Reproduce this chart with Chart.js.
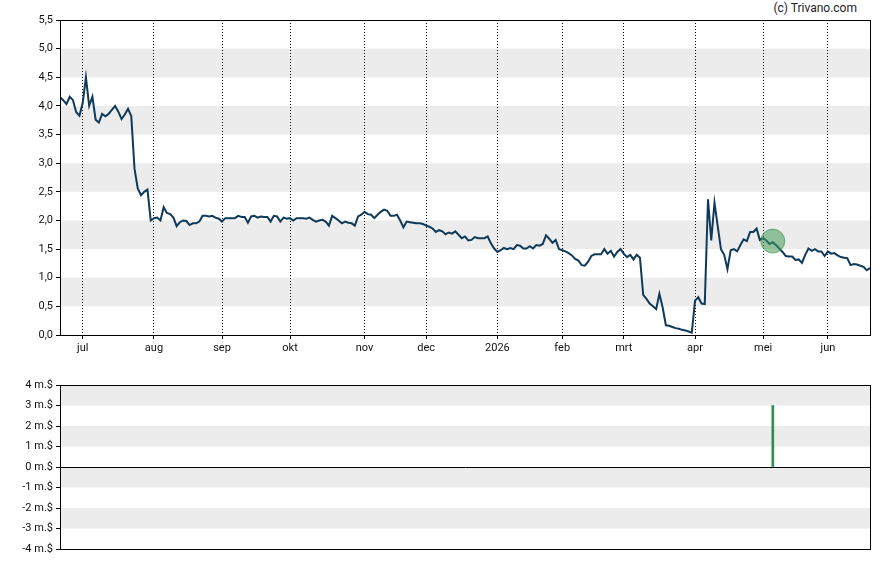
<!DOCTYPE html>
<html lang="nl">
  <head>
    <meta charset="UTF-8" />
    <title>Koers</title>
    <script src="https://cdn.jsdelivr.net/npm/chart.js"></script>
    <style>
      body {
        margin: 0;
        background: #ffffff;
        font-family: Roboto, Arial, sans-serif;
      }
      #wrap {
        position: relative;
        width: 888px;
        height: 565px;
      }
      .box {
        position: absolute;
        left: 0;
        width: 888px;
      }
      #copy {
        position: absolute;
        top: 1px;
        right: 31px;
        font-size: 12px;
        color: #222;
      }
    </style>
  </head>
  <body>
    <div id="wrap">
      <div id="copy">(c) Trivano.com</div>
      <div class="box" style="top: 0; height: 365px"><canvas id="priceChart"></canvas></div>
      <div class="box" style="top: 370px; height: 195px"><canvas id="tradeChart"></canvas></div>
    </div>

    <script>
      // koers per handelsdag (index 0 = eind juni 2025)
      const prices = [
        4.15, 4.10, 4.03, 4.16, 4.10, 3.89, 3.83, 4.05, 4.50, 4.00,
        4.16, 3.76, 3.71, 3.86, 3.82, 3.86, 3.93, 4.00, 3.90, 3.77,
        3.85, 3.95, 3.82, 2.90, 2.56, 2.44, 2.50, 2.54, 2.00, 2.04,
        2.05, 2.00, 2.23, 2.13, 2.11, 2.05, 1.90, 1.97, 2.00, 1.99,
        1.92, 1.95, 1.95, 1.98, 2.08, 2.08, 2.07, 2.08, 2.05, 2.03,
        1.98, 2.04, 2.04, 2.04, 2.04, 2.08, 2.06, 2.06, 1.96, 2.07,
        2.08, 2.05, 2.07, 2.06, 2.06, 1.98, 2.08, 2.07, 1.98, 2.05,
        2.03, 2.04, 2.00, 2.04, 2.04, 2.04, 2.03, 2.05, 2.01, 1.98,
        2.00, 2.01, 1.98, 1.91, 2.08, 2.04, 2.00, 1.95, 1.98, 1.96,
        1.95, 1.91, 2.07, 2.10, 2.15, 2.11, 2.10, 2.04, 2.10, 2.15,
        2.19, 2.17, 2.08, 2.08, 2.10, 2.00, 1.88, 1.98, 1.97, 1.96,
        1.95, 1.95, 1.94, 1.91, 1.89, 1.86, 1.80, 1.83, 1.81, 1.76,
        1.79, 1.77, 1.81, 1.75, 1.69, 1.72, 1.65, 1.66, 1.71, 1.69,
        1.69, 1.69, 1.72, 1.60, 1.51, 1.45, 1.48, 1.52, 1.50, 1.52,
        1.50, 1.57, 1.56, 1.51, 1.51, 1.55, 1.51, 1.57, 1.56, 1.59,
        1.74, 1.68, 1.61, 1.66, 1.50, 1.48, 1.46, 1.43, 1.39, 1.33,
        1.30, 1.22, 1.21, 1.28, 1.38, 1.41, 1.41, 1.41, 1.50, 1.42,
        1.47, 1.37, 1.45, 1.50, 1.42, 1.36, 1.40, 1.32, 1.40, 1.35,
        0.70, 0.63, 0.55, 0.50, 0.45, 0.72, 0.48, 0.17, 0.16, 0.14,
        0.12, 0.11, 0.09, 0.08, 0.06, 0.04, 0.60, 0.66, 0.55, 0.54,
        2.37, 1.65, 2.31, 1.90, 1.50, 1.40, 1.15, 1.48, 1.50, 1.46,
        1.57, 1.67, 1.64, 1.80, 1.80, 1.86, 1.66, 1.69, 1.65, 1.59,
        1.62, 1.57, 1.51, 1.45, 1.38, 1.37, 1.37, 1.31, 1.32, 1.26,
        1.40, 1.51, 1.47, 1.50, 1.46, 1.46, 1.38, 1.46, 1.42, 1.43,
        1.39, 1.36, 1.35, 1.34, 1.22, 1.24, 1.23, 1.21, 1.19, 1.13,
        1.17
      ];

      // eerste handelsdag van elke maand
      const monthIdx = [7, 29, 50, 71, 94, 113, 135, 155, 174, 196, 217, 237];
      const monthLabels = ["jul", "aug", "sep", "okt", "nov", "dec", "2026", "feb", "mrt", "apr", "mei", "jun"];

      // insider transactie (miljoen $)
      const tradeIdx = [220];
      const tradeVal = [3];
      const markerVal = [1.64];

      const bandsTop = [[0.5, 1.0], [1.5, 2.0], [2.5, 3.0], [3.5, 4.0], [4.5, 5.0]];
      const bandsBottom = [[3, 4], [1, 2], [-1, 0], [-3, -2]];

      const tickFont = { family: "Roboto", size: 11 };

      function bandsPlugin(bands) {
        return {
          id: "bands",
          beforeDraw(chart) {
            const { ctx, chartArea, scales } = chart;
            ctx.save();
            ctx.fillStyle = "#ececec";
            bands.forEach(([a, b]) => {
              const y1 = scales.y.getPixelForValue(b);
              const y2 = scales.y.getPixelForValue(a);
              ctx.fillRect(chartArea.left, y1, chartArea.right - chartArea.left, y2 - y1);
            });
            ctx.restore();
          },
        };
      }

      const framePlugin = {
        id: "frame",
        afterDraw(chart) {
          const { ctx, chartArea } = chart;
          ctx.save();
          ctx.strokeStyle = "#000";
          ctx.lineWidth = 1;
          ctx.strokeRect(
            Math.round(chartArea.left) + 0.5,
            Math.round(chartArea.top) + 0.5,
            Math.round(chartArea.right - chartArea.left),
            Math.round(chartArea.bottom - chartArea.top)
          );
          ctx.restore();
        },
      };

      new Chart(document.getElementById("priceChart"), {
        type: "line",
        data: {
          datasets: [
            {
              data: tradeIdx.map((x, i) => ({ x: x, y: markerVal[i] })),
              showLine: false,
              pointRadius: 12,
              pointBackgroundColor: "rgba(70, 155, 90, 0.55)",
              pointBorderColor: "rgba(50, 140, 70, 0.6)",
              pointBorderWidth: 1,
            },
            {
              data: prices.map((v, i) => ({ x: i, y: v })),
              borderColor: "#0f3a5a",
              borderWidth: 2,
              pointRadius: 0,
              tension: 0,
              fill: false,
            },
          ],
        },
        options: {
          responsive: true,
          maintainAspectRatio: false,
          animation: false,
          layout: { padding: { top: 20, right: 18, left: 0, bottom: 0 } },
          plugins: { legend: { display: false }, tooltip: { enabled: false } },
          scales: {
            x: {
              type: "linear",
              min: 0,
              max: 250,
              afterBuildTicks: (scale) => {
                scale.ticks = monthIdx.map((v) => ({ value: v }));
              },
              afterFit: (scale) => {
                scale.height = 30;
              },
              ticks: {
                autoSkip: false,
                maxRotation: 0,
                padding: 3,
                color: "#111",
                font: tickFont,
                callback: (v) => monthLabels[monthIdx.indexOf(v)],
              },
              grid: { color: "#000", lineWidth: 1, tickLength: 4, tickColor: "#000" },
              border: { color: "#000", width: 1, dash: [1, 2] },
            },
            y: {
              min: 0,
              max: 5.5,
              afterFit: (scale) => {
                scale.width = 60;
              },
              ticks: {
                stepSize: 0.5,
                padding: 3,
                color: "#111",
                font: tickFont,
                callback: (v) => v.toFixed(1).replace(".", ","),
              },
              grid: { drawOnChartArea: false, tickLength: 4, tickColor: "#000" },
              border: { color: "#000", width: 1 },
            },
          },
        },
        plugins: [bandsPlugin(bandsTop), framePlugin],
      });

      new Chart(document.getElementById("tradeChart"), {
        type: "bar",
        data: {
          datasets: [
            {
              data: tradeIdx.map((x, i) => ({ x: x, y: tradeVal[i] })),
              backgroundColor: "#2f8f4e",
              barThickness: 2,
            },
          ],
        },
        options: {
          responsive: true,
          maintainAspectRatio: false,
          animation: false,
          layout: { padding: { top: 15, right: 18, left: 0, bottom: 16 } },
          plugins: { legend: { display: false }, tooltip: { enabled: false } },
          scales: {
            x: { type: "linear", min: 0, max: 250, offset: false, display: false },
            y: {
              min: -4,
              max: 4,
              afterFit: (scale) => {
                scale.width = 60;
              },
              ticks: {
                stepSize: 1,
                padding: 3,
                color: "#111",
                font: tickFont,
                callback: (v) => v + " m.$",
              },
              grid: {
                color: (c) => (c.tick && c.tick.value === 0 ? "#000" : "rgba(0,0,0,0)"),
                tickLength: 4,
                tickColor: "#000",
              },
              border: { color: "#000", width: 1 },
            },
          },
        },
        plugins: [bandsPlugin(bandsBottom), framePlugin],
      });
    </script>
  </body>
</html>
